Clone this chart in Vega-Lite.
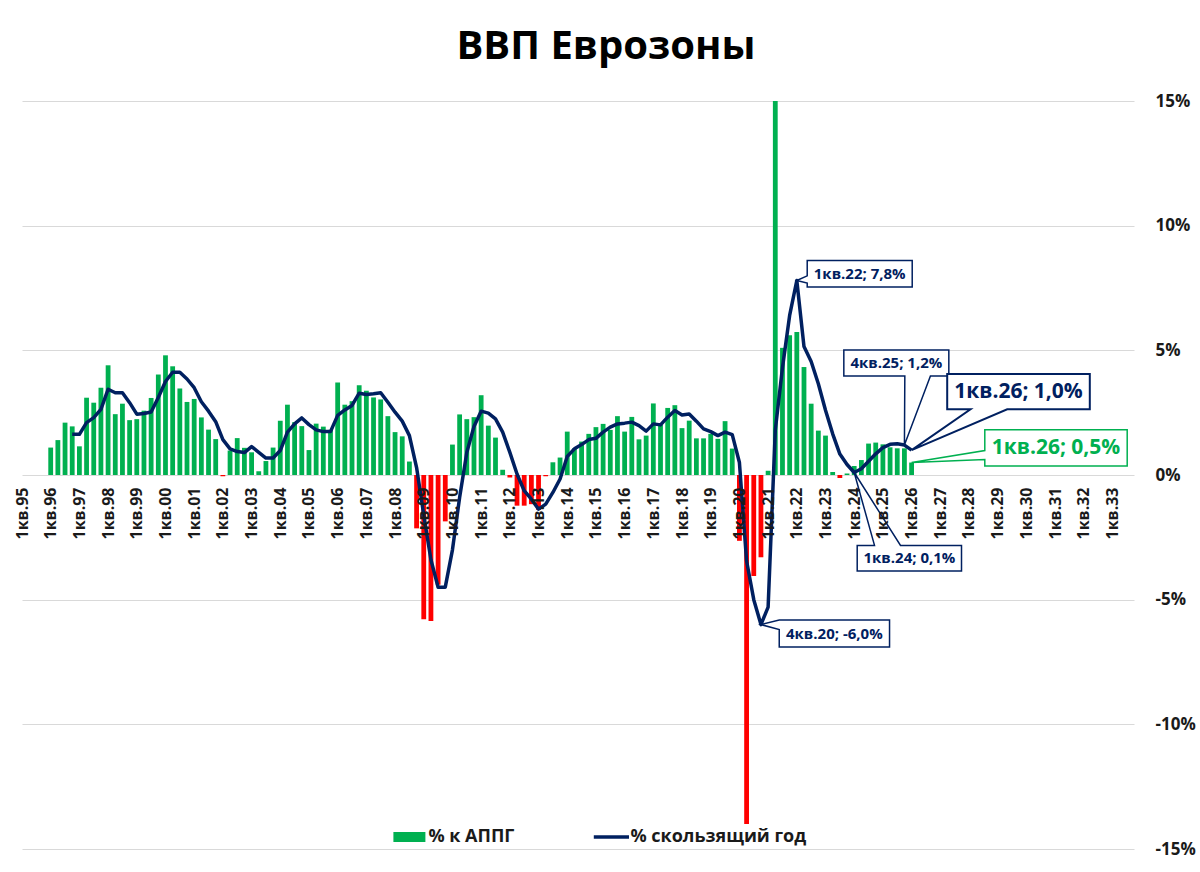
{
  "$schema": "https://vega.github.io/schema/vega-lite/v6.json",
  "description": "Eurozone GDP: yoy bars and rolling-year line",
  "width": 1112,
  "height": 748,
  "autosize": {"type": "none"},
  "padding": {"left": 22, "top": 101, "right": 66, "bottom": 23},
  "background": "white",
  "title": {"text": "ВВП Еврозоны", "font": "Open Sans", "fontSize": 40, "fontWeight": "bold", "color": "#000000", "anchor": "middle", "frame": "group", "dx": 28, "baseline": "alphabetic", "offset": -7},
  "datasets": {
    "gdp": [
      {"q": "1кв.96", "yoy": 1.1, "roll": null},
      {"q": "2кв.96", "yoy": 1.4, "roll": null},
      {"q": "3кв.96", "yoy": 2.1, "roll": null},
      {"q": "4кв.96", "yoy": 1.95, "roll": 1.63},
      {"q": "1кв.97", "yoy": 1.15, "roll": 1.63},
      {"q": "2кв.97", "yoy": 3.1, "roll": 2.1},
      {"q": "3кв.97", "yoy": 2.9, "roll": 2.3},
      {"q": "4кв.97", "yoy": 3.5, "roll": 2.63},
      {"q": "1кв.98", "yoy": 4.4, "roll": 3.44},
      {"q": "2кв.98", "yoy": 2.44, "roll": 3.3},
      {"q": "3кв.98", "yoy": 2.86, "roll": 3.3},
      {"q": "4кв.98", "yoy": 2.2, "roll": 2.9},
      {"q": "1кв.99", "yoy": 2.24, "roll": 2.44},
      {"q": "2кв.99", "yoy": 2.58, "roll": 2.47},
      {"q": "3кв.99", "yoy": 3.09, "roll": 2.53},
      {"q": "4кв.99", "yoy": 4.03, "roll": 3.11},
      {"q": "1кв.00", "yoy": 4.8, "roll": 3.75},
      {"q": "2кв.00", "yoy": 4.36, "roll": 4.12},
      {"q": "3кв.00", "yoy": 3.47, "roll": 4.12},
      {"q": "4кв.00", "yoy": 2.93, "roll": 3.85},
      {"q": "1кв.01", "yoy": 3.05, "roll": 3.5},
      {"q": "2кв.01", "yoy": 2.31, "roll": 2.94},
      {"q": "3кв.01", "yoy": 1.82, "roll": 2.56},
      {"q": "4кв.01", "yoy": 1.44, "roll": 2.14},
      {"q": "1кв.02", "yoy": -0.05, "roll": 1.42},
      {"q": "2кв.02", "yoy": 0.98, "roll": 1.05},
      {"q": "3кв.02", "yoy": 1.48, "roll": 0.94},
      {"q": "4кв.02", "yoy": 1.09, "roll": 0.9},
      {"q": "1кв.03", "yoy": 0.91, "roll": 1.14},
      {"q": "2кв.03", "yoy": 0.15, "roll": 0.91},
      {"q": "3кв.03", "yoy": 0.56, "roll": 0.68},
      {"q": "4кв.03", "yoy": 1.1, "roll": 0.68},
      {"q": "1кв.04", "yoy": 2.18, "roll": 0.98},
      {"q": "2кв.04", "yoy": 2.82, "roll": 1.72},
      {"q": "3кв.04", "yoy": 2.12, "roll": 2.05},
      {"q": "4кв.04", "yoy": 1.96, "roll": 2.29},
      {"q": "1кв.05", "yoy": 1.0, "roll": 2.02},
      {"q": "2кв.05", "yoy": 2.06, "roll": 1.81},
      {"q": "3кв.05", "yoy": 1.94, "roll": 1.74},
      {"q": "4кв.05", "yoy": 1.81, "roll": 1.74},
      {"q": "1кв.06", "yoy": 3.71, "roll": 2.39},
      {"q": "2кв.06", "yoy": 2.82, "roll": 2.61},
      {"q": "3кв.06", "yoy": 2.96, "roll": 2.79},
      {"q": "4кв.06", "yoy": 3.6, "roll": 3.28},
      {"q": "1кв.07", "yoy": 3.38, "roll": 3.23},
      {"q": "2кв.07", "yoy": 3.11, "roll": 3.26},
      {"q": "3кв.07", "yoy": 3.03, "roll": 3.3},
      {"q": "4кв.07", "yoy": 2.36, "roll": 2.92},
      {"q": "1кв.08", "yoy": 1.72, "roll": 2.52},
      {"q": "2кв.08", "yoy": 1.55, "roll": 2.16},
      {"q": "3кв.08", "yoy": 0.54, "roll": 1.58},
      {"q": "4кв.08", "yoy": -2.14, "roll": 0.3},
      {"q": "1кв.09", "yoy": -5.79, "roll": -1.6},
      {"q": "2кв.09", "yoy": -5.86, "roll": -3.4},
      {"q": "3кв.09", "yoy": -4.4, "roll": -4.5},
      {"q": "4кв.09", "yoy": -1.86, "roll": -4.5},
      {"q": "1кв.10", "yoy": 1.22, "roll": -3.0},
      {"q": "2кв.10", "yoy": 2.43, "roll": -0.9},
      {"q": "3кв.10", "yoy": 2.24, "roll": 0.9},
      {"q": "4кв.10", "yoy": 2.32, "roll": 1.95},
      {"q": "1кв.11", "yoy": 3.2, "roll": 2.56},
      {"q": "2кв.11", "yoy": 1.98, "roll": 2.48},
      {"q": "3кв.11", "yoy": 1.5, "roll": 2.25},
      {"q": "4кв.11", "yoy": 0.21, "roll": 1.72},
      {"q": "1кв.12", "yoy": -0.1, "roll": 0.91},
      {"q": "2кв.12", "yoy": -1.23, "roll": 0.04},
      {"q": "3кв.12", "yoy": -1.23, "roll": -0.63},
      {"q": "4кв.12", "yoy": -1.17, "roll": -0.97},
      {"q": "1кв.13", "yoy": -1.4, "roll": -1.37},
      {"q": "2кв.13", "yoy": -0.05, "roll": -1.17},
      {"q": "3кв.13", "yoy": 0.51, "roll": -0.7},
      {"q": "4кв.13", "yoy": 0.7, "roll": -0.16},
      {"q": "1кв.14", "yoy": 1.74, "roll": 0.74},
      {"q": "2кв.14", "yoy": 1.07, "roll": 1.05},
      {"q": "3кв.14", "yoy": 1.34, "roll": 1.22},
      {"q": "4кв.14", "yoy": 1.65, "roll": 1.42},
      {"q": "1кв.15", "yoy": 1.92, "roll": 1.47},
      {"q": "2кв.15", "yoy": 2.05, "roll": 1.72},
      {"q": "3кв.15", "yoy": 1.81, "roll": 1.92},
      {"q": "4кв.15", "yoy": 2.36, "roll": 2.05},
      {"q": "1кв.16", "yoy": 1.74, "roll": 2.08},
      {"q": "2кв.16", "yoy": 2.33, "roll": 2.12},
      {"q": "3кв.16", "yoy": 1.43, "roll": 1.98},
      {"q": "4кв.16", "yoy": 1.58, "roll": 1.76},
      {"q": "1кв.17", "yoy": 2.87, "roll": 2.05},
      {"q": "2кв.17", "yoy": 2.01, "roll": 2.01},
      {"q": "3кв.17", "yoy": 2.69, "roll": 2.32},
      {"q": "4кв.17", "yoy": 2.8, "roll": 2.59},
      {"q": "1кв.18", "yoy": 1.88, "roll": 2.41},
      {"q": "2кв.18", "yoy": 2.18, "roll": 2.45},
      {"q": "3кв.18", "yoy": 1.47, "roll": 2.16},
      {"q": "4кв.18", "yoy": 1.47, "roll": 1.85},
      {"q": "1кв.19", "yoy": 1.65, "roll": 1.74},
      {"q": "2кв.19", "yoy": 1.45, "roll": 1.58},
      {"q": "3кв.19", "yoy": 2.16, "roll": 1.72},
      {"q": "4кв.19", "yoy": 1.06, "roll": 1.62},
      {"q": "1кв.20", "yoy": -2.64, "roll": 0.5},
      {"q": "2кв.20", "yoy": -14.0, "roll": -3.45},
      {"q": "3кв.20", "yoy": -4.05, "roll": -5.0},
      {"q": "4кв.20", "yoy": -3.3, "roll": -6.0},
      {"q": "1кв.21", "yoy": 0.17, "roll": -5.3},
      {"q": "2кв.21", "yoy": 15.0, "roll": 1.8},
      {"q": "3кв.21", "yoy": 5.1, "roll": 4.3},
      {"q": "4кв.21", "yoy": 5.6, "roll": 6.4},
      {"q": "1кв.22", "yoy": 5.74, "roll": 7.8},
      {"q": "2кв.22", "yoy": 4.33, "roll": 5.15},
      {"q": "3кв.22", "yoy": 2.86, "roll": 4.55},
      {"q": "4кв.22", "yoy": 1.78, "roll": 3.66},
      {"q": "1кв.23", "yoy": 1.58, "roll": 2.6},
      {"q": "2кв.23", "yoy": 0.12, "roll": 1.65},
      {"q": "3кв.23", "yoy": -0.12, "roll": 0.84},
      {"q": "4кв.23", "yoy": 0.06, "roll": 0.42},
      {"q": "1кв.24", "yoy": 0.36, "roll": 0.1},
      {"q": "2кв.24", "yoy": 0.6, "roll": 0.25},
      {"q": "3кв.24", "yoy": 1.26, "roll": 0.55},
      {"q": "4кв.24", "yoy": 1.3, "roll": 0.85},
      {"q": "1кв.25", "yoy": 1.23, "roll": 1.1},
      {"q": "2кв.25", "yoy": 1.11, "roll": 1.23},
      {"q": "3кв.25", "yoy": 1.07, "roll": 1.25},
      {"q": "4кв.25", "yoy": 1.07, "roll": 1.2},
      {"q": "1кв.26", "yoy": 0.5, "roll": 1.0}
    ],
    "notes": [
      {"q": "1кв.22", "v": 7.8, "label": "1кв.22; 7,8%"},
      {"q": "4кв.20", "v": -6.0, "label": "4кв.20; -6,0%"},
      {"q": "1кв.24", "v": 0.1, "label": "1кв.24; 0,1%"},
      {"q": "4кв.25", "v": 1.2, "label": "4кв.25; 1,2%"},
      {"q": "1кв.26", "v": 1.0, "label": "1кв.26; 1,0%"},
      {"q": "1кв.26", "v": 0.5, "label": "1кв.26; 0,5%"}
    ]
  },
  "encoding": {
    "x": {
      "field": "q",
      "type": "ordinal",
      "scale": {
        "type": "point",
        "padding": 0,
        "domain": [
          "1кв.95","2кв.95","3кв.95","4кв.95","1кв.96","2кв.96","3кв.96","4кв.96","1кв.97","2кв.97","3кв.97","4кв.97",
          "1кв.98","2кв.98","3кв.98","4кв.98","1кв.99","2кв.99","3кв.99","4кв.99","1кв.00","2кв.00","3кв.00","4кв.00",
          "1кв.01","2кв.01","3кв.01","4кв.01","1кв.02","2кв.02","3кв.02","4кв.02","1кв.03","2кв.03","3кв.03","4кв.03",
          "1кв.04","2кв.04","3кв.04","4кв.04","1кв.05","2кв.05","3кв.05","4кв.05","1кв.06","2кв.06","3кв.06","4кв.06",
          "1кв.07","2кв.07","3кв.07","4кв.07","1кв.08","2кв.08","3кв.08","4кв.08","1кв.09","2кв.09","3кв.09","4кв.09",
          "1кв.10","2кв.10","3кв.10","4кв.10","1кв.11","2кв.11","3кв.11","4кв.11","1кв.12","2кв.12","3кв.12","4кв.12",
          "1кв.13","2кв.13","3кв.13","4кв.13","1кв.14","2кв.14","3кв.14","4кв.14","1кв.15","2кв.15","3кв.15","4кв.15",
          "1кв.16","2кв.16","3кв.16","4кв.16","1кв.17","2кв.17","3кв.17","4кв.17","1кв.18","2кв.18","3кв.18","4кв.18",
          "1кв.19","2кв.19","3кв.19","4кв.19","1кв.20","2кв.20","3кв.20","4кв.20","1кв.21","2кв.21","3кв.21","4кв.21",
          "1кв.22","2кв.22","3кв.22","4кв.22","1кв.23","2кв.23","3кв.23","4кв.23","1кв.24","2кв.24","3кв.24","4кв.24",
          "1кв.25","2кв.25","3кв.25","4кв.25","1кв.26","2кв.26","3кв.26","4кв.26","1кв.27","2кв.27","3кв.27","4кв.27",
          "1кв.28","2кв.28","3кв.28","4кв.28","1кв.29","2кв.29","3кв.29","4кв.29","1кв.30","2кв.30","3кв.30","4кв.30",
          "1кв.31","2кв.31","3кв.31","4кв.31","1кв.32","2кв.32","3кв.32","4кв.32","1кв.33","2кв.33","3кв.33","4кв.33"
        ]
      },
      "axis": {
        "title": null,
        "orient": "bottom",
        "offset": -374,
        "zindex": 1,
        "domain": false,
        "ticks": false,
        "grid": false,
        "labelAngle": 270,
        "labelAlign": "right",
        "labelBaseline": "middle",
        "labelPadding": 12,
        "labelOverlap": false,
        "labelFont": "Open Sans",
        "labelFontSize": 16,
        "labelFontWeight": "bold",
        "labelColor": "#1a1a1a",
        "values": ["1кв.95","1кв.96","1кв.97","1кв.98","1кв.99","1кв.00","1кв.01","1кв.02","1кв.03","1кв.04","1кв.05","1кв.06","1кв.07",
          "1кв.08","1кв.09","1кв.10","1кв.11","1кв.12","1кв.13","1кв.14","1кв.15","1кв.16","1кв.17","1кв.18","1кв.19","1кв.20",
          "1кв.21","1кв.22","1кв.23","1кв.24","1кв.25","1кв.26","1кв.27","1кв.28","1кв.29","1кв.30","1кв.31","1кв.32","1кв.33"]
      }
    }
  },
  "layer": [
    {
      "data": {"name": "gdp"},
      "transform": [{"filter": "datum.yoy >= 0"}],
      "mark": {"type": "bar", "width": 4.8},
      "encoding": {
        "y": {
          "field": "yoy",
          "type": "quantitative",
          "scale": {"domain": [-15, 15], "nice": false, "zero": false},
          "axis": {
            "title": null,
            "orient": "right",
            "values": [-15, -10, -5, 0, 5, 10, 15],
            "labelExpr": "datum.value + '%'",
            "domain": false,
            "ticks": false,
            "grid": true,
            "gridColor": "#D9D9D9",
            "gridWidth": 1,
            "labelPadding": 21,
            "labelAlign": "left",
            "labelFont": "Open Sans",
            "labelFontSize": 17,
            "labelFontWeight": "bold",
            "labelColor": "#1a1a1a"
          }
        },
        "color": {
          "datum": "% к АППГ",
          "scale": {"domain": ["% к АППГ", "% скользящий год"], "range": ["#00B050", "#002060"]},
          "legend": {
            "title": null,
            "orient": "none",
            "legendX": 378.4,
            "legendY": 727,
            "direction": "horizontal",
            "symbolSize": 1024,
            "labelOffset": 10,
            "columnPadding": 71,
            "labelLimit": 400,
            "labelFont": "Open Sans",
            "labelFontSize": 18,
            "labelFontWeight": "bold",
            "labelColor": "#1a1a1a",
            "encode": {
              "symbols": {
                "update": {
                  "shape": {"signal": "datum.value === '% к АППГ' ? 'M-1,-0.31H1V0.31H-1Z' : 'M-1.1,0H1.1'"},
                  "fill": {"signal": "datum.value === '% к АППГ' ? '#00B050' : 'transparent'"},
                  "stroke": {"signal": "datum.value === '% к АППГ' ? '#00B050' : '#002060'"},
                  "strokeWidth": {"signal": "datum.value === '% к АППГ' ? 0 : 3.5"},
                  "opacity": {"value": 1}
                }
              }
            }
          }
        }
      }
    },
    {
      "data": {"name": "gdp"},
      "transform": [{"filter": "datum.yoy < 0"}],
      "mark": {"type": "bar", "width": 4.8, "color": "#FF0000"},
      "encoding": {
        "y": {"field": "yoy", "type": "quantitative", "title": null}
      }
    },
    {
      "data": {"name": "gdp"},
      "mark": {"type": "line", "strokeWidth": 3.5, "strokeJoin": "round"},
      "encoding": {
        "y": {"field": "roll", "type": "quantitative", "title": null},
        "color": {"datum": "% скользящий год"}
      }
    },
    {
      "data": {"name": "notes"},
      "encoding": {
        "y": {"field": "v", "type": "quantitative", "title": null}
      },
      "layer": [
        {
          "transform": [{"filter": "datum.label == '1кв.22; 7,8%'"}],
          "layer": [
            {"mark": {"type": "point", "shape": "M0,0L10.4,-4.7V-20H115.4V6.6H10.4V2.6Z", "size": 4, "fill": "white", "stroke": "#002060", "strokeWidth": 1.5, "opacity": 1, "filled": true}},
            {"mark": {"type": "text", "dx": 62.9, "dy": -6.7, "font": "Open Sans", "fontSize": 15, "fontWeight": "bold", "color": "#002060"}, "encoding": {"text": {"field": "label"}}}
          ]
        },
        {
          "transform": [{"filter": "datum.label == '4кв.20; -6,0%'"}],
          "layer": [
            {"mark": {"type": "point", "shape": "M0,0L18.3,-4.6H128.6V22.4H18.3V5Z", "size": 4, "fill": "white", "stroke": "#002060", "strokeWidth": 1.5, "opacity": 1, "filled": true}},
            {"mark": {"type": "text", "dx": 73.4, "dy": 8.9, "font": "Open Sans", "fontSize": 15, "fontWeight": "bold", "color": "#002060"}, "encoding": {"text": {"field": "label"}}}
          ]
        },
        {
          "transform": [{"filter": "datum.label == '1кв.24; 0,1%'"}],
          "layer": [
            {"mark": {"type": "point", "shape": "M0,0L46.3,72.9H107.3V98.5H3V72.9H20.3Z", "size": 4, "fill": "white", "stroke": "#002060", "strokeWidth": 1.5, "opacity": 1, "filled": true}},
            {"mark": {"type": "text", "dx": 55.2, "dy": 85.7, "font": "Open Sans", "fontSize": 15, "fontWeight": "bold", "color": "#002060"}, "encoding": {"text": {"field": "label"}}}
          ]
        },
        {
          "transform": [{"filter": "datum.label == '4кв.25; 1,2%'"}],
          "layer": [
            {"mark": {"type": "point", "shape": "M0,0L26,-69H44.4V-95H-60.6V-69H0.4Z", "size": 4, "fill": "white", "stroke": "#002060", "strokeWidth": 1.5, "opacity": 1, "filled": true}},
            {"mark": {"type": "text", "dx": -8.1, "dy": -82, "font": "Open Sans", "fontSize": 15, "fontWeight": "bold", "color": "#002060"}, "encoding": {"text": {"field": "label"}}}
          ]
        },
        {
          "transform": [{"filter": "datum.label == '1кв.26; 1,0%'"}],
          "layer": [
            {"mark": {"type": "point", "shape": "M0,0L95.6,-40.8H178.2V-76.1H35.6V-40.8H58.9Z", "size": 4, "fill": "white", "stroke": "#002060", "strokeWidth": 2, "opacity": 1, "filled": true}},
            {"mark": {"type": "text", "dx": 106.9, "dy": -58.4, "font": "Open Sans", "fontSize": 21, "fontWeight": "bold", "color": "#002060"}, "encoding": {"text": {"field": "label"}}}
          ]
        },
        {
          "transform": [{"filter": "datum.label == '1кв.26; 0,5%'"}],
          "layer": [
            {"mark": {"type": "point", "shape": "M0,0L73.2,-12V-32.9H215.6V3.4H73.2V-3Z", "size": 4, "fill": "white", "stroke": "#00B050", "strokeWidth": 1.5, "opacity": 1, "filled": true}},
            {"mark": {"type": "text", "dx": 144.4, "dy": -14.7, "font": "Open Sans", "fontSize": 21, "fontWeight": "bold", "color": "#00B050"}, "encoding": {"text": {"field": "label"}}}
          ]
        }
      ]
    }
  ],
  "config": {
    "font": "Open Sans",
    "view": {"stroke": null}
  }
}
